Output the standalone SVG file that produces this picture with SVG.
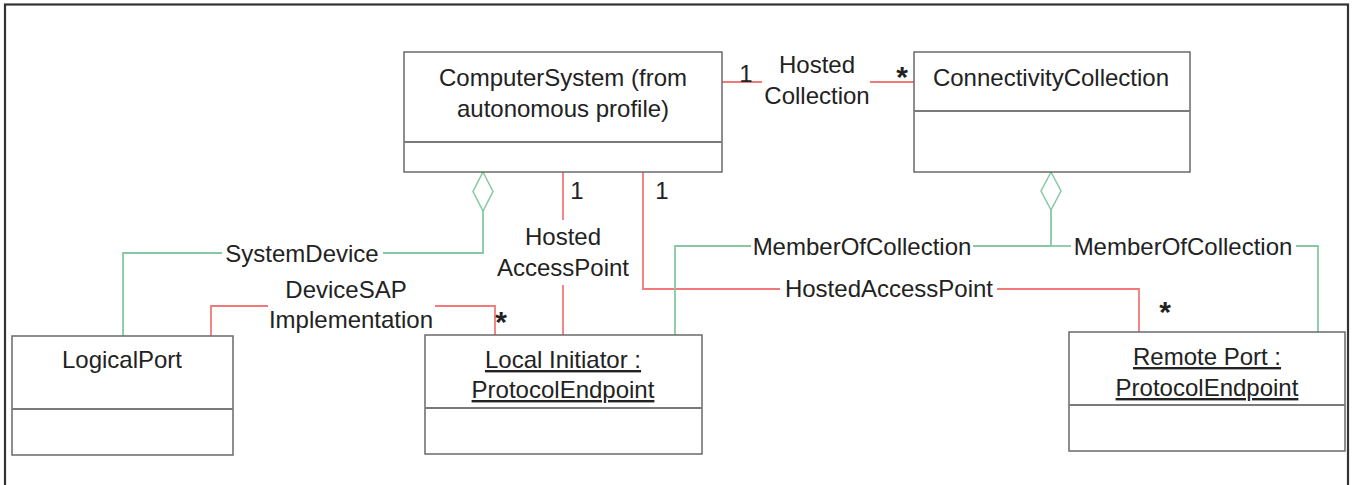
<svg xmlns="http://www.w3.org/2000/svg" width="1352" height="485" viewBox="0 0 1352 485">
<style>
.box{fill:#fff;stroke:#6a6a6a;stroke-width:1.5}
.div{stroke:#7a7a7a;stroke-width:2}
.t{font-family:"Liberation Sans",Arial,sans-serif;font-size:24px;fill:#222;text-anchor:middle}
.s{font-family:"Liberation Sans",Arial,sans-serif;font-size:30px;font-weight:bold;fill:#222;text-anchor:middle}
.u{text-decoration:underline}
.red{fill:none;stroke:#f07a7a;stroke-width:1.8}
.grn{fill:none;stroke:#86c8a4;stroke-width:1.8}
.dia{fill:#fff;stroke:#86c8a4;stroke-width:1.5}
</style>
<rect x="0" y="0" width="1352" height="485" fill="#fff"/>
<rect x="5" y="4.5" width="1343" height="500" fill="none" stroke="#333" stroke-width="2.2"/>

<g id="connectors">
  <!-- HostedCollection -->
  <polyline class="red" points="722,82 762,82"/>
  <polyline class="red" points="870,82 914,82"/>
  <text class="t" x="817" y="73">Hosted</text>
  <text class="t" x="817" y="104">Collection</text>
  <text class="t" x="746" y="82">1</text>
  <text class="s" x="902" y="87">*</text>

  <!-- SystemDevice -->
  <polyline class="grn" points="483,211 483,253 383,253"/>
  <polyline class="grn" points="222,253 123,253 123,336"/>
  <polygon class="dia" points="483,172 493,191.5 483,211 473,191.5"/>
  <text class="t" x="302" y="262">SystemDevice</text>

  <!-- DeviceSAPImplementation -->
  <polyline class="red" points="211,336 211,306 268,306"/>
  <polyline class="red" points="435,306 495,306 495,335"/>
  <text class="t" x="346" y="298">DeviceSAP</text>
  <text class="t" x="351" y="328">Implementation</text>
  <text class="s" x="501" y="332">*</text>

  <!-- Hosted AccessPoint (vertical) -->
  <polyline class="red" points="563,172 563,220"/>
  <polyline class="red" points="563,285 563,335"/>
  <text class="t" x="563" y="245">Hosted</text>
  <text class="t" x="563" y="276">AccessPoint</text>
  <text class="t" x="577" y="199">1</text>

  <!-- HostedAccessPoint (long) -->
  <polyline class="red" points="643,172 643,289 780,289"/>
  <polyline class="red" points="997,289 1139,289 1139,332"/>
  <text class="t" x="889" y="297">HostedAccessPoint</text>
  <text class="t" x="662" y="199">1</text>
  <text class="s" x="1165" y="322">*</text>

  <!-- MemberOfCollection -->
  <polyline class="grn" points="1051,210 1051,246 973,246"/>
  <polyline class="grn" points="751,246 675,246 675,335"/>
  <polyline class="grn" points="1051,246 1071,246"/>
  <polyline class="grn" points="1296,246 1318,246 1318,332"/>
  <polygon class="dia" points="1051,172 1061,191 1051,210 1041,191"/>
  <text class="t" x="862" y="255">MemberOfCollection</text>
  <text class="t" x="1183" y="255">MemberOfCollection</text>
</g>

<g id="ComputerSystem">
  <rect class="box" x="404" y="52" width="318" height="120"/>
  <line class="div" x1="404" y1="142" x2="722" y2="142"/>
  <text class="t" x="563" y="86">ComputerSystem (from</text>
  <text class="t" x="563" y="117">autonomous profile)</text>
</g>

<g id="ConnectivityCollection">
  <rect class="box" x="914" y="52" width="276" height="120"/>
  <line class="div" x1="914" y1="111" x2="1190" y2="111"/>
  <text class="t" x="1051" y="86">ConnectivityCollection</text>
</g>

<g id="LogicalPort">
  <rect class="box" x="12" y="336" width="221" height="119"/>
  <line class="div" x1="12" y1="409" x2="233" y2="409"/>
  <text class="t" x="122" y="368">LogicalPort</text>
</g>

<g id="LocalInitiator">
  <rect class="box" x="425" y="335" width="277" height="119"/>
  <line class="div" x1="425" y1="408" x2="702" y2="408"/>
  <text class="t u" x="563" y="368">Local Initiator :</text>
  <text class="t u" x="563" y="398">ProtocolEndpoint</text>
</g>

<g id="RemotePort">
  <rect class="box" x="1069" y="332" width="276" height="119"/>
  <line class="div" x1="1069" y1="405" x2="1345" y2="405"/>
  <text class="t u" x="1207" y="365">Remote Port :</text>
  <text class="t u" x="1207" y="396">ProtocolEndpoint</text>
</g>
</svg>
